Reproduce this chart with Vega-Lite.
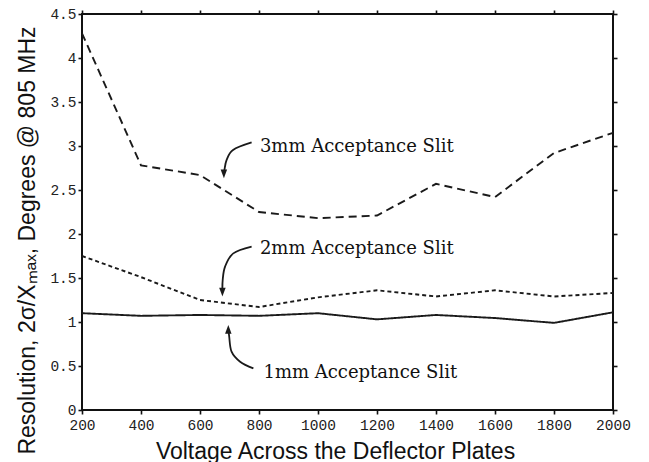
{
  "$schema": "https://vega.github.io/schema/vega-lite/v6.json",
  "width": 531,
  "height": 396,
  "autosize": "none",
  "padding": {"left": 82, "top": 14, "right": 36, "bottom": 52},
  "background": "white",
  "config": {
    "view": {"stroke": "#111", "strokeWidth": 2},
    "axis": {
      "grid": false,
      "domain": false,
      "tickColor": "#111",
      "tickWidth": 1.6,
      "tickSize": 4,
      "labelOverlap": false,
      "labelFlush": false,
      "labelFont": "Liberation Mono",
      "labelFontSize": 14.5,
      "labelColor": "#222",
      "titleFont": "Liberation Sans",
      "titleFontSize": 23,
      "titleFontWeight": "normal",
      "titleColor": "#111"
    }
  },
  "datasets": {
    "curves": [
      {"s": "3mm", "v": 200, "r": 4.28}, {"s": "3mm", "v": 400, "r": 2.78}, {"s": "3mm", "v": 600, "r": 2.67},
      {"s": "3mm", "v": 800, "r": 2.25}, {"s": "3mm", "v": 1000, "r": 2.18}, {"s": "3mm", "v": 1200, "r": 2.21},
      {"s": "3mm", "v": 1400, "r": 2.57}, {"s": "3mm", "v": 1600, "r": 2.42}, {"s": "3mm", "v": 1800, "r": 2.92},
      {"s": "3mm", "v": 2000, "r": 3.15},
      {"s": "2mm", "v": 200, "r": 1.75}, {"s": "2mm", "v": 400, "r": 1.51}, {"s": "2mm", "v": 600, "r": 1.25},
      {"s": "2mm", "v": 800, "r": 1.17}, {"s": "2mm", "v": 1000, "r": 1.28}, {"s": "2mm", "v": 1200, "r": 1.36},
      {"s": "2mm", "v": 1400, "r": 1.29}, {"s": "2mm", "v": 1600, "r": 1.36}, {"s": "2mm", "v": 1800, "r": 1.29},
      {"s": "2mm", "v": 2000, "r": 1.33},
      {"s": "1mm", "v": 200, "r": 1.10}, {"s": "1mm", "v": 400, "r": 1.07}, {"s": "1mm", "v": 600, "r": 1.08},
      {"s": "1mm", "v": 800, "r": 1.07}, {"s": "1mm", "v": 1000, "r": 1.10}, {"s": "1mm", "v": 1200, "r": 1.03},
      {"s": "1mm", "v": 1400, "r": 1.08}, {"s": "1mm", "v": 1600, "r": 1.045}, {"s": "1mm", "v": 1800, "r": 0.99},
      {"s": "1mm", "v": 2000, "r": 1.11}
    ],
    "arrows": [
      {"a": "3mm", "i": 0, "v": 775, "r": 3.04}, {"a": "3mm", "i": 1, "v": 712, "r": 2.955},
      {"a": "3mm", "i": 2, "v": 690, "r": 2.84}, {"a": "3mm", "i": 3, "v": 683, "r": 2.73},
      {"a": "3mm", "i": 4, "v": 681, "r": 2.68},
      {"a": "2mm", "i": 0, "v": 775, "r": 1.856}, {"a": "2mm", "i": 1, "v": 713, "r": 1.78},
      {"a": "2mm", "i": 2, "v": 685, "r": 1.63}, {"a": "2mm", "i": 3, "v": 677, "r": 1.48},
      {"a": "2mm", "i": 4, "v": 676, "r": 1.34},
      {"a": "1mm", "i": 0, "v": 781, "r": 0.473}, {"a": "1mm", "i": 1, "v": 736, "r": 0.549},
      {"a": "1mm", "i": 2, "v": 707, "r": 0.663}, {"a": "1mm", "i": 3, "v": 699, "r": 0.833},
      {"a": "1mm", "i": 4, "v": 697, "r": 0.91}
    ],
    "heads": [
      {"dir": "down", "v": 681, "r": 2.633},
      {"dir": "down", "v": 676, "r": 1.29},
      {"dir": "up", "v": 696, "r": 0.966}
    ],
    "labels": [
      {"t": "3mm Acceptance Slit", "v": 803, "r": 2.935},
      {"t": "2mm Acceptance Slit", "v": 803, "r": 1.773},
      {"t": "1mm Acceptance Slit", "v": 815, "r": 0.36}
    ]
  },
  "layer": [
    {
      "data": {"name": "curves"},
      "mark": {"type": "line", "strokeWidth": 1.9, "color": "#1a1a1a"},
      "encoding": {
        "x": {
          "field": "v", "type": "quantitative",
          "scale": {"domain": [200, 2000], "nice": false, "zero": false},
          "axis": {
            "values": [200, 400, 600, 800, 1000, 1200, 1400, 1600, 1800, 2000],
            "format": "d", "labelPadding": 4,
            "title": "Voltage Across the Deflector Plates",
            "titleX": 253, "titleY": 48, "titleBaseline": "alphabetic"
          }
        },
        "y": {
          "field": "r", "type": "quantitative",
          "scale": {"domain": [0, 4.5], "nice": false},
          "axis": {
            "values": [0, 0.5, 1, 1.5, 2, 2.5, 3, 3.5, 4, 4.5],
            "format": "~g", "labelPadding": 2,
            "title": "Resolution, 2σ/Xₘₐₓ, Degrees @ 805 MHz",
            "titleX": -55, "titleY": 226, "titleAngle": -90, "titleBaseline": "middle", "titleAlign": "center"
          }
        },
        "detail": {"field": "s"},
        "strokeDash": {
          "field": "s", "type": "nominal",
          "scale": {"domain": ["3mm", "2mm", "1mm"], "range": [[8, 5], [4, 3], [1, 0]]},
          "legend": null
        }
      }
    },
    {
      "data": {"name": "arrows"},
      "mark": {"type": "line", "strokeWidth": 1.8, "color": "#1a1a1a", "interpolate": "cardinal"},
      "encoding": {
        "x": {"field": "v", "type": "quantitative",
          "axis": {"orient": "top", "values": [200, 400, 600, 800, 1000, 1200, 1400, 1600, 1800, 2000], "labels": false, "title": null}},
        "y": {"field": "r", "type": "quantitative",
          "axis": {"orient": "right", "values": [0, 0.5, 1, 1.5, 2, 2.5, 3, 3.5, 4, 4.5], "labels": false, "title": null}},
        "detail": {"field": "a"},
        "order": {"field": "i"}
      }
    },
    {
      "data": {"name": "heads"},
      "mark": {"type": "point", "filled": true, "opacity": 1, "color": "#1a1a1a", "size": 42},
      "encoding": {
        "x": {"field": "v", "type": "quantitative", "axis": null},
        "y": {"field": "r", "type": "quantitative", "axis": null},
        "shape": {
          "field": "dir", "type": "nominal",
          "scale": {"domain": ["down", "up"], "range": ["M-1,-2.7L1,-2.7L0,0Z", "M-1,2.7L1,2.7L0,0Z"]},
          "legend": null
        }
      }
    },
    {
      "data": {"name": "labels"},
      "mark": {"type": "text", "font": "DejaVu Serif", "fontSize": 18, "align": "left", "baseline": "alphabetic", "color": "#111"},
      "encoding": {
        "x": {"field": "v", "type": "quantitative", "axis": null},
        "y": {"field": "r", "type": "quantitative", "axis": null},
        "text": {"field": "t"}
      }
    }
  ],
  "resolve": {"axis": {"x": "independent", "y": "independent"}}
}
